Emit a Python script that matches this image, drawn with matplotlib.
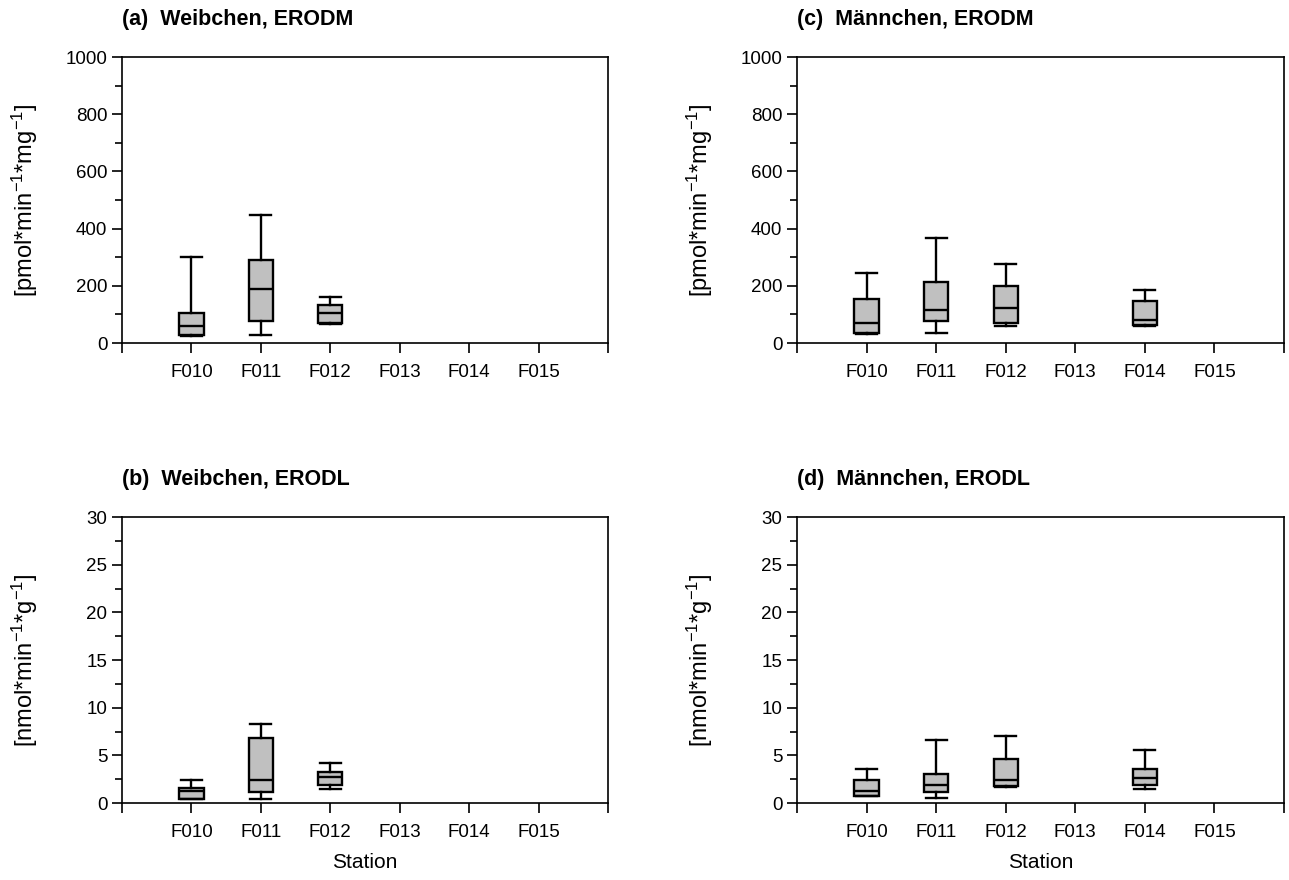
import numpy as np
import matplotlib.pyplot as plt
from matplotlib.ticker import MultipleLocator

plt.rcParams['font.family'] = ['Liberation Sans', 'DejaVu Sans']
plt.rcParams['mathtext.default'] = 'regular'

stations = ['F010', 'F011', 'F012', 'F013', 'F014', 'F015']

# box statistics per panel: station index, whislo, q1, median, q3, whishi
# (a) Weibchen, ERODM
a_pos = [1, 2, 3]
a_lo = [25, 28, 65]
a_q1 = [27, 78, 71]
a_med = [60, 190, 105]
a_q3 = [104, 289, 134]
a_hi = [300, 449, 160]

# (b) Weibchen, ERODL
b_pos = [1, 2, 3]
b_lo = [0.4, 0.45, 1.43]
b_q1 = [0.45, 1.11, 1.85]
b_med = [1.22, 2.44, 2.69]
b_q3 = [1.57, 6.81, 3.25]
b_hi = [2.44, 8.24, 4.15]

# (c) Maennchen, ERODM
c_pos = [1, 2, 3, 5]
c_lo = [32, 36, 61, 58]
c_q1 = [34, 76, 70, 62]
c_med = [70, 114, 123, 81]
c_q3 = [153, 213, 198, 146]
c_hi = [244, 367, 276, 185]

# (d) Maennchen, ERODL
d_pos = [1, 2, 3, 5]
d_lo = [0.7, 0.48, 1.64, 1.43]
d_q1 = [0.73, 1.15, 1.81, 1.85]
d_med = [1.29, 1.88, 2.37, 2.58]
d_q3 = [2.37, 3.07, 4.6, 3.52]
d_hi = [3.52, 6.63, 7.08, 5.51]

lab_m = r'[pmol*min$^{-1}$*mg$^{-1}$]'
lab_l = r'[nmol*min$^{-1}$*g$^{-1}$]'

panels = [
    ([0.0947, 0.6102, 0.377, 0.325], '(a)  Weibchen, ERODM', lab_m, 1000, 200,
     a_pos, a_lo, a_q1, a_med, a_q3, a_hi, False),
    ([0.0947, 0.0875, 0.377, 0.325], '(b)  Weibchen, ERODL', lab_l, 30, 5,
     b_pos, b_lo, b_q1, b_med, b_q3, b_hi, True),
    ([0.6183, 0.6102, 0.3778, 0.325], '(c)  Männchen, ERODM', lab_m, 1000, 200,
     c_pos, c_lo, c_q1, c_med, c_q3, c_hi, False),
    ([0.6183, 0.0875, 0.3778, 0.325], '(d)  Männchen, ERODL', lab_l, 30, 5,
     d_pos, d_lo, d_q1, d_med, d_q3, d_hi, True),
]

fig = plt.figure(figsize=(12.89, 8.8), dpi=100)

for rect, title, ylab, ymax, ystep, pos, lo, q1, med, q3, hi, bottom in panels:
    ax = fig.add_axes(rect)
    stats = []
    for i in range(len(pos)):
        stats.append({'whislo': lo[i], 'q1': q1[i], 'med': med[i],
                      'q3': q3[i], 'whishi': hi[i], 'fliers': []})
    ax.bxp(stats, positions=pos, widths=0.35, capwidths=0.3,
           patch_artist=True, showfliers=False,
           boxprops=dict(facecolor='#c0c0c0', edgecolor='black', linewidth=1.7),
           medianprops=dict(color='black', linewidth=1.7),
           whiskerprops=dict(color='black', linewidth=1.7),
           capprops=dict(color='black', linewidth=1.7))
    ax.set_xlim(0, 7)
    ax.set_ylim(0, ymax)
    ax.set_xticks(range(8))
    ax.set_xticklabels([''] + stations + [''])
    ax.yaxis.set_major_locator(MultipleLocator(ystep))
    ax.yaxis.set_minor_locator(MultipleLocator(ystep / 2))
    ax.tick_params(direction='out', length=7, width=1.2, labelsize=13.5,
                   top=False, right=False)
    ax.tick_params(axis='x', pad=8)
    ax.tick_params(which='minor', length=5, width=1.2)
    for s in ax.spines.values():
        s.set_linewidth(1.2)
    ax.set_ylabel(ylab, fontsize=17)
    ax.yaxis.set_label_coords(-0.168, 0.5)
    ax.text(0.0, 1.13, title, transform=ax.transAxes, fontsize=15.5,
            fontweight='bold', ha='left', va='center')
    if bottom:
        ax.set_xlabel('Station', fontsize=15, labelpad=9)

fig.savefig('out.png', dpi=100)
